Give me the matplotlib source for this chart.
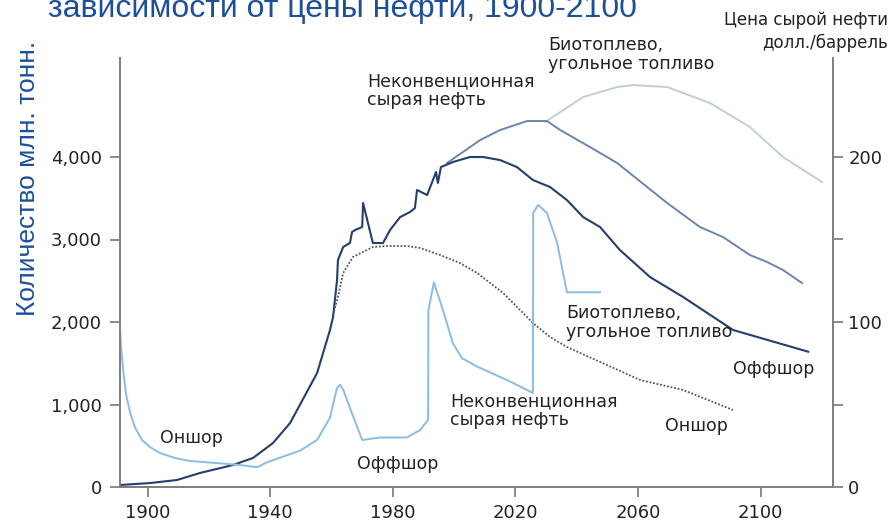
import matplotlib
matplotlib.use("Agg")
import matplotlib.pyplot as plt

# ---- data ----
# total crude output (offshore incl.), mln t
total_years = [1891.0, 1900.8, 1909.6, 1917.1, 1927.9, 1934.4, 1940.9, 1946.5, 1955.3,
               1959.5, 1960.5, 1961.8, 1962.1, 1963.8, 1966.0, 1966.7, 1967.7, 1970.0,
               1970.3, 1973.5, 1976.8, 1979.1, 1982.4, 1985.6, 1987.2, 1987.9, 1991.2,
               1994.1, 1994.7, 1995.7, 1999.6, 2005.2, 2009.4, 2015.0, 2020.5, 2025.7,
               2031.3, 2036.8, 2042.1, 2047.6, 2054.1, 2063.9, 2074.7, 2091.0, 2115.5]
total_vals = [24, 48, 85, 170, 267, 352, 533, 776, 1382,
              1903, 2060, 2509, 2751, 2909, 2957, 3091, 3115, 3151,
              3442, 2957, 2957, 3115, 3272, 3333, 3381, 3600, 3539,
              3818, 3685, 3878, 3939, 4000, 4000, 3963, 3878, 3721,
              3636, 3478, 3272, 3151, 2872, 2545, 2303, 1903, 1640]

# total + unconventional crude
unconv_years = [1997.7, 2008.5, 2015.0, 2023.8, 2030.3, 2034.6, 2044.3, 2053.2,
                2069.5, 2080.2, 2087.7, 2096.5, 2102.1, 2107.3, 2113.5]
unconv_vals = [3927, 4206, 4327, 4436, 4436, 4327, 4121, 3927,
               3442, 3151, 3030, 2812, 2727, 2630, 2472]

# total + biofuel / coal liquids
bio_years = [2029.7, 2042.1, 2053.2, 2058.4, 2069.5, 2083.5, 2096.5, 2107.3, 2120.0]
bio_vals = [4424, 4727, 4848, 4872, 4848, 4654, 4363, 4000, 3697]

# onshore only
onshore_years = [1960.5, 1962.1, 1963.8, 1967.0, 1973.5, 1978.1, 1984.6, 1988.9, 1995.4,
                 2001.9, 2007.5, 2016.0, 2025.7, 2031.3, 2036.8, 2060.7, 2074.7, 2091.0]
onshore_vals = [2085, 2303, 2594, 2788, 2909, 2921, 2921, 2897, 2812,
                2715, 2594, 2351, 1988, 1818, 1697, 1297, 1176, 933]

# crude price, USD/bbl (right axis)
price_years = [1891.0, 1891.3, 1892.0, 1893.0, 1894.3, 1895.9, 1898.2, 1900.8, 1904.0,
               1908.9, 1913.8, 1922.6, 1930.2, 1935.7, 1939.0, 1949.7, 1955.3, 1959.5,
               1961.0, 1961.8, 1962.8, 1963.8, 1966.0, 1970.0, 1975.8, 1984.6, 1988.9,
               1991.5, 1991.6, 1993.4, 1996.4, 1999.6, 2002.6, 2007.5, 2018.2, 2025.7,
               2025.8, 2027.4, 2030.3, 2033.6, 2036.8, 2047.6]
price_vals = [97, 86, 71, 56, 45, 36, 28.5, 24.2, 20.6,
              17.6, 15.8, 14.5, 13.3, 12, 15, 22, 28.5, 42,
              54, 60, 62, 59, 48, 28.5, 30, 30, 34.5,
              40.6, 107, 124, 107, 87, 78, 73, 64, 57,
              166, 171, 166, 148, 118, 118]

x_ticks = [1900, 1940, 1980, 2020, 2060, 2100]
left_ticks = [0, 1000, 2000, 3000, 4000]
left_labels = ["0", "1,000", "2,000", "3,000", "4,000"]
right_ticks = [0, 50, 100, 150, 200]
right_labels = ["0", "", "100", "", "200"]

NAVY = "#233f6e"
SLATE = "#6a86ad"
SAGE = "#c3d0ca"
PRICE = "#8bbce2"
DOT = "#555555"
BLUE_TXT = "#1d4f9a"
AXIS = "#808080"
TXT = "#222222"

fig = plt.figure(figsize=(8.96, 5.25), dpi=100)
ax = fig.add_axes([120 / 896, 1 - 487 / 525, 713 / 896, 429 / 525])
ax2 = ax.twinx()

ax.plot(bio_years, bio_vals, color=SAGE, lw=1.4)
ax.plot(unconv_years, unconv_vals, color=SLATE, lw=1.4)
ax.plot(total_years, total_vals, color=NAVY, lw=1.5)
ax.plot(onshore_years, onshore_vals, color=DOT, lw=1.3, ls=(0, (1, 1)))
ax2.plot(price_years, price_vals, color=PRICE, lw=1.4)

ax.set_xlim(1891, 2123.6)
ax.set_ylim(0, 5200)
ax2.set_ylim(0, 260)

ax.set_xticks(x_ticks)
ax.set_xticklabels([str(t) for t in x_ticks])
ax.set_yticks(left_ticks)
ax.set_yticklabels(left_labels)
ax2.set_yticks(right_ticks)
ax2.set_yticklabels(right_labels)

for a in (ax, ax2):
    a.spines["top"].set_visible(False)
    for s in ("left", "right", "bottom"):
        a.spines[s].set_color(AXIS)
        a.spines[s].set_linewidth(1.3)
    a.tick_params(colors=AXIS, labelcolor=TXT, labelsize=13, length=7, width=1.3)
ax.tick_params(axis="y", pad=6)
ax.tick_params(axis="x", pad=5)
ax2.tick_params(axis="y", pad=4)

# titles / axis labels (title is clipped at the top edge, as in the source image)
fig.text(48 / 896, 1 - 17 / 525, "зависимости от цены нефти, 1900-2100",
         color=BLUE_TXT, fontsize=23, family="Liberation Sans", va="baseline")
fig.text(28 / 896, 1 - 178 / 525, "Количество млн. тонн.", color=BLUE_TXT,
         fontsize=19, family="Liberation Sans", rotation=90, ha="center", va="center")
fig.text(888 / 896, 1 - 11 / 525, "Цена сырой нефти\nдолл./баррель", color=TXT,
         fontsize=12, ha="right", va="top", linespacing=1.3, multialignment="right")

# annotations (pixel positions of upper-left corner)
notes = [
    (367, 72, "Неконвенционная\nсырая нефть"),
    (548, 36, "Биотоплево,\nугольное топливо"),
    (160, 429, "Оншор"),
    (357, 455, "Оффшор"),
    (450, 392, "Неконвенционная\nсырая нефть"),
    (566, 304, "Биотоплево,\nугольное топливо"),
    (733, 360, "Оффшор"),
    (665, 417, "Оншор"),
]
for px, py, s in notes:
    fig.text(px / 896, 1 - py / 525, s, color=TXT, fontsize=12.5, ha="left",
             va="top", linespacing=1.05)

fig.savefig("out.png", dpi=100)
